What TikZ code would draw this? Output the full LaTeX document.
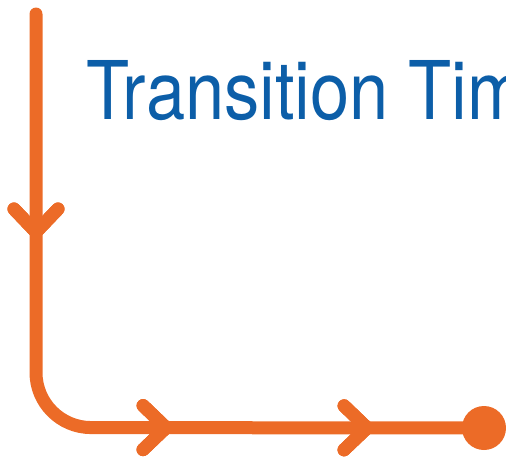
\documentclass[tikz,border=0pt]{standalone}
\usepackage{fontspec}
\newfontfamily\titlefont[FakeStretch=0.87]{TeX Gyre Heros}
\usetikzlibrary{decorations.markings}
\definecolor{routeorange}{RGB}{236,107,39}
\definecolor{titleblue}{RGB}{12,94,168}
\tikzset{
  route/.style={draw=routeorange,line width=13pt,line cap=round,line join=round},
  chevron/.style={decoration={markings,
      mark=at position #1 with {\draw[route,sharp corners] (-23,22) -- (0,0) -- (-23,-22);}},
    postaction={decorate}}
}
\begin{document}
\begin{tikzpicture}[x=1pt,y=-1pt]
	\useasboundingbox (0,0) rectangle (506,456);

	% title, cut off at the right edge
	\begin{scope}
		\clip (0,0) rectangle (506,456);
		\node[anchor=base west,inner sep=0pt,text=titleblue,font=\titlefont\fontsize{81}{81}\selectfont] (title) at (86,119) {Transition Tim};
	\end{scope}

	% route: down, round the corner, then right to the end dot
	\coordinate (start) at (36,14);
	\coordinate (corner) at (36,427.5);
	\node[circle,fill=routeorange,minimum size=44pt,inner sep=0pt] (finish) at (484,428) {};
	\draw[route,rounded corners=55pt,chevron=218pt,chevron=520pt,chevron=721pt]
		(start) -- (corner) -- (finish.center);
\end{tikzpicture}
\end{document}
